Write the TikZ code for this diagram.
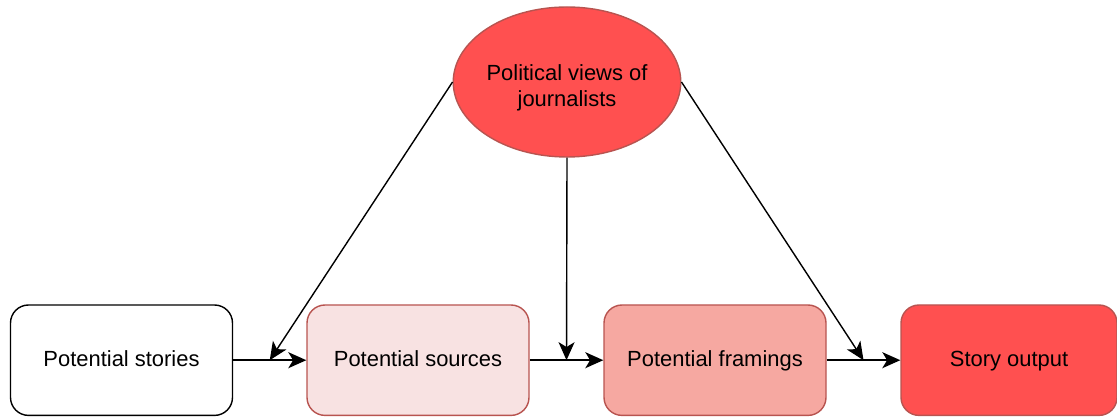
\documentclass[tikz,border=0pt]{standalone}
\usepackage{fontspec}
\setmainfont{Liberation Sans}
\usetikzlibrary{arrows.meta,shapes.geometric,calc}
\definecolor{redline}{HTML}{B85450}
\definecolor{redA}{HTML}{F8E2E2}
\definecolor{redB}{HTML}{F6A8A1}
\definecolor{redC}{HTML}{FF5050}
\tikzset{
  stepbox/.style={draw, rounded corners=0.45cm, line width=1pt,
    minimum width=5.55cm, minimum height=2.76cm, inner sep=0pt,
    text height=1.2em, text depth=0.25em,
    font=\fontsize{15.6}{19}\selectfont},
  conn/.style={line width=1pt, -{Stealth[length=0.45cm,width=0.4cm,inset=0.12cm]}}
}
\begin{document}
\begin{tikzpicture}
      \useasboundingbox (0,0) rectangle (27.925,10.425);
      \node[stepbox] (stories) at (3.0375,1.42) {Potential stories};
      \node[stepbox, draw=redline, fill=redA] (sources) at (10.45,1.42) {Potential sources};
      \node[stepbox, draw=redline, fill=redB] (framings) at (17.875,1.42) {Potential framings};
      \node[stepbox, draw=redline, fill=redC, minimum width=5.4cm] (output) at (25.225,1.42) {Story output};
      \node[ellipse, draw=redline, fill=redC, line width=1pt, inner sep=0pt,
            minimum width=5.6cm, minimum height=3.75cm, align=center,
            font=\fontsize{15.6}{18.5}\selectfont] (views) at (14.175,8.375)
            {\rule{0pt}{1.3em}Political views of\\journalists};
      % meeting points on the flow
      \coordinate (m1) at ($(stories.east)!0.5!(sources.west)$);
      \coordinate (m2) at ($(sources.east)!0.5!(framings.west)$);
      \coordinate (m3) at ($(framings.east)!0.5!(output.west)$);
      \draw[conn] (stories) -- (sources);
      \draw[conn] (sources) -- (framings);
      \draw[conn] (framings) -- (output);
      \draw[conn] (views.west) -- (m1);
      \draw[conn] (views.south) -- (m2);
      \draw[conn] (views.east) -- (m3);
\end{tikzpicture}
\end{document}
